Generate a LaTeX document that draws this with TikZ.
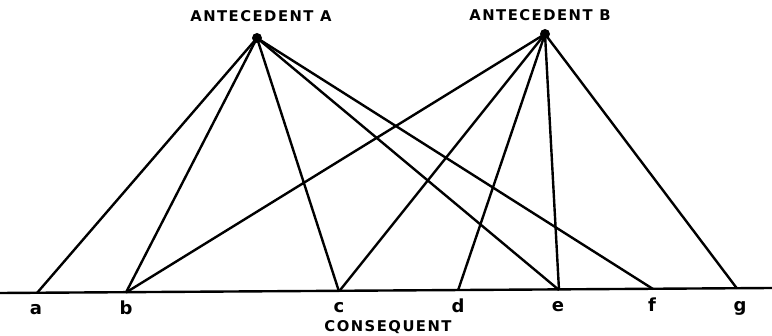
\documentclass[tikz,border=0pt]{standalone}
\usepackage{fontspec}
\setmainfont{DejaVu Sans}
\newfontfamily\lblfont[LetterSpace=10]{DejaVu Sans}
\begin{document}
\begin{tikzpicture}[x=1pt,y=-1pt,
  ln/.style={line width=2.4pt},
  ttl/.style={font=\lblfont\bfseries\fontsize{14.8}{15}\selectfont, inner sep=0pt},
  lbl/.style={font=\bfseries\fontsize{18}{18}\selectfont, inner sep=0pt},
  pt/.style={circle, fill=black, inner sep=0pt, minimum size=10pt}]
\useasboundingbox (0,0) rectangle (772,336);
\node[pt] (A) at (257,38) {};
\node[pt] (B) at (545,34) {};
\node[ttl] (tA) at (261,16) {ANTECEDENT A};
\node[ttl] (tB) at (540,15) {ANTECEDENT B};
\coordinate (L) at (0,293);
\coordinate (R) at (772,288);
\draw[ln] (L) -- (R);
\coordinate (a) at (37,293);
\coordinate (b) at (126,292.5);
\coordinate (c) at (339,291.5);
\coordinate (d) at (458,290.5);
\coordinate (e) at (559,290);
\coordinate (f) at (653,289);
\coordinate (g) at (737,288.5);
\foreach \p in {a,b,c,e,f} \draw[ln] (A.center) -- (\p);
\foreach \p in {b,c,d,e,g} \draw[ln] (B.center) -- (\p);
\node[lbl] (la) at (36,310) {a};
\node[lbl] (lb) at (126,308) {b};
\node[lbl] (lc) at (339,308) {c};
\node[lbl] (ld) at (458,306) {d};
\node[lbl] (le) at (558,307) {e};
\node[lbl] (lf) at (652,305) {f};
\node[lbl] (lg) at (740,308) {g};
\node[ttl] (cons) at (388,327) {CONSEQUENT};
\end{tikzpicture}
\end{document}
